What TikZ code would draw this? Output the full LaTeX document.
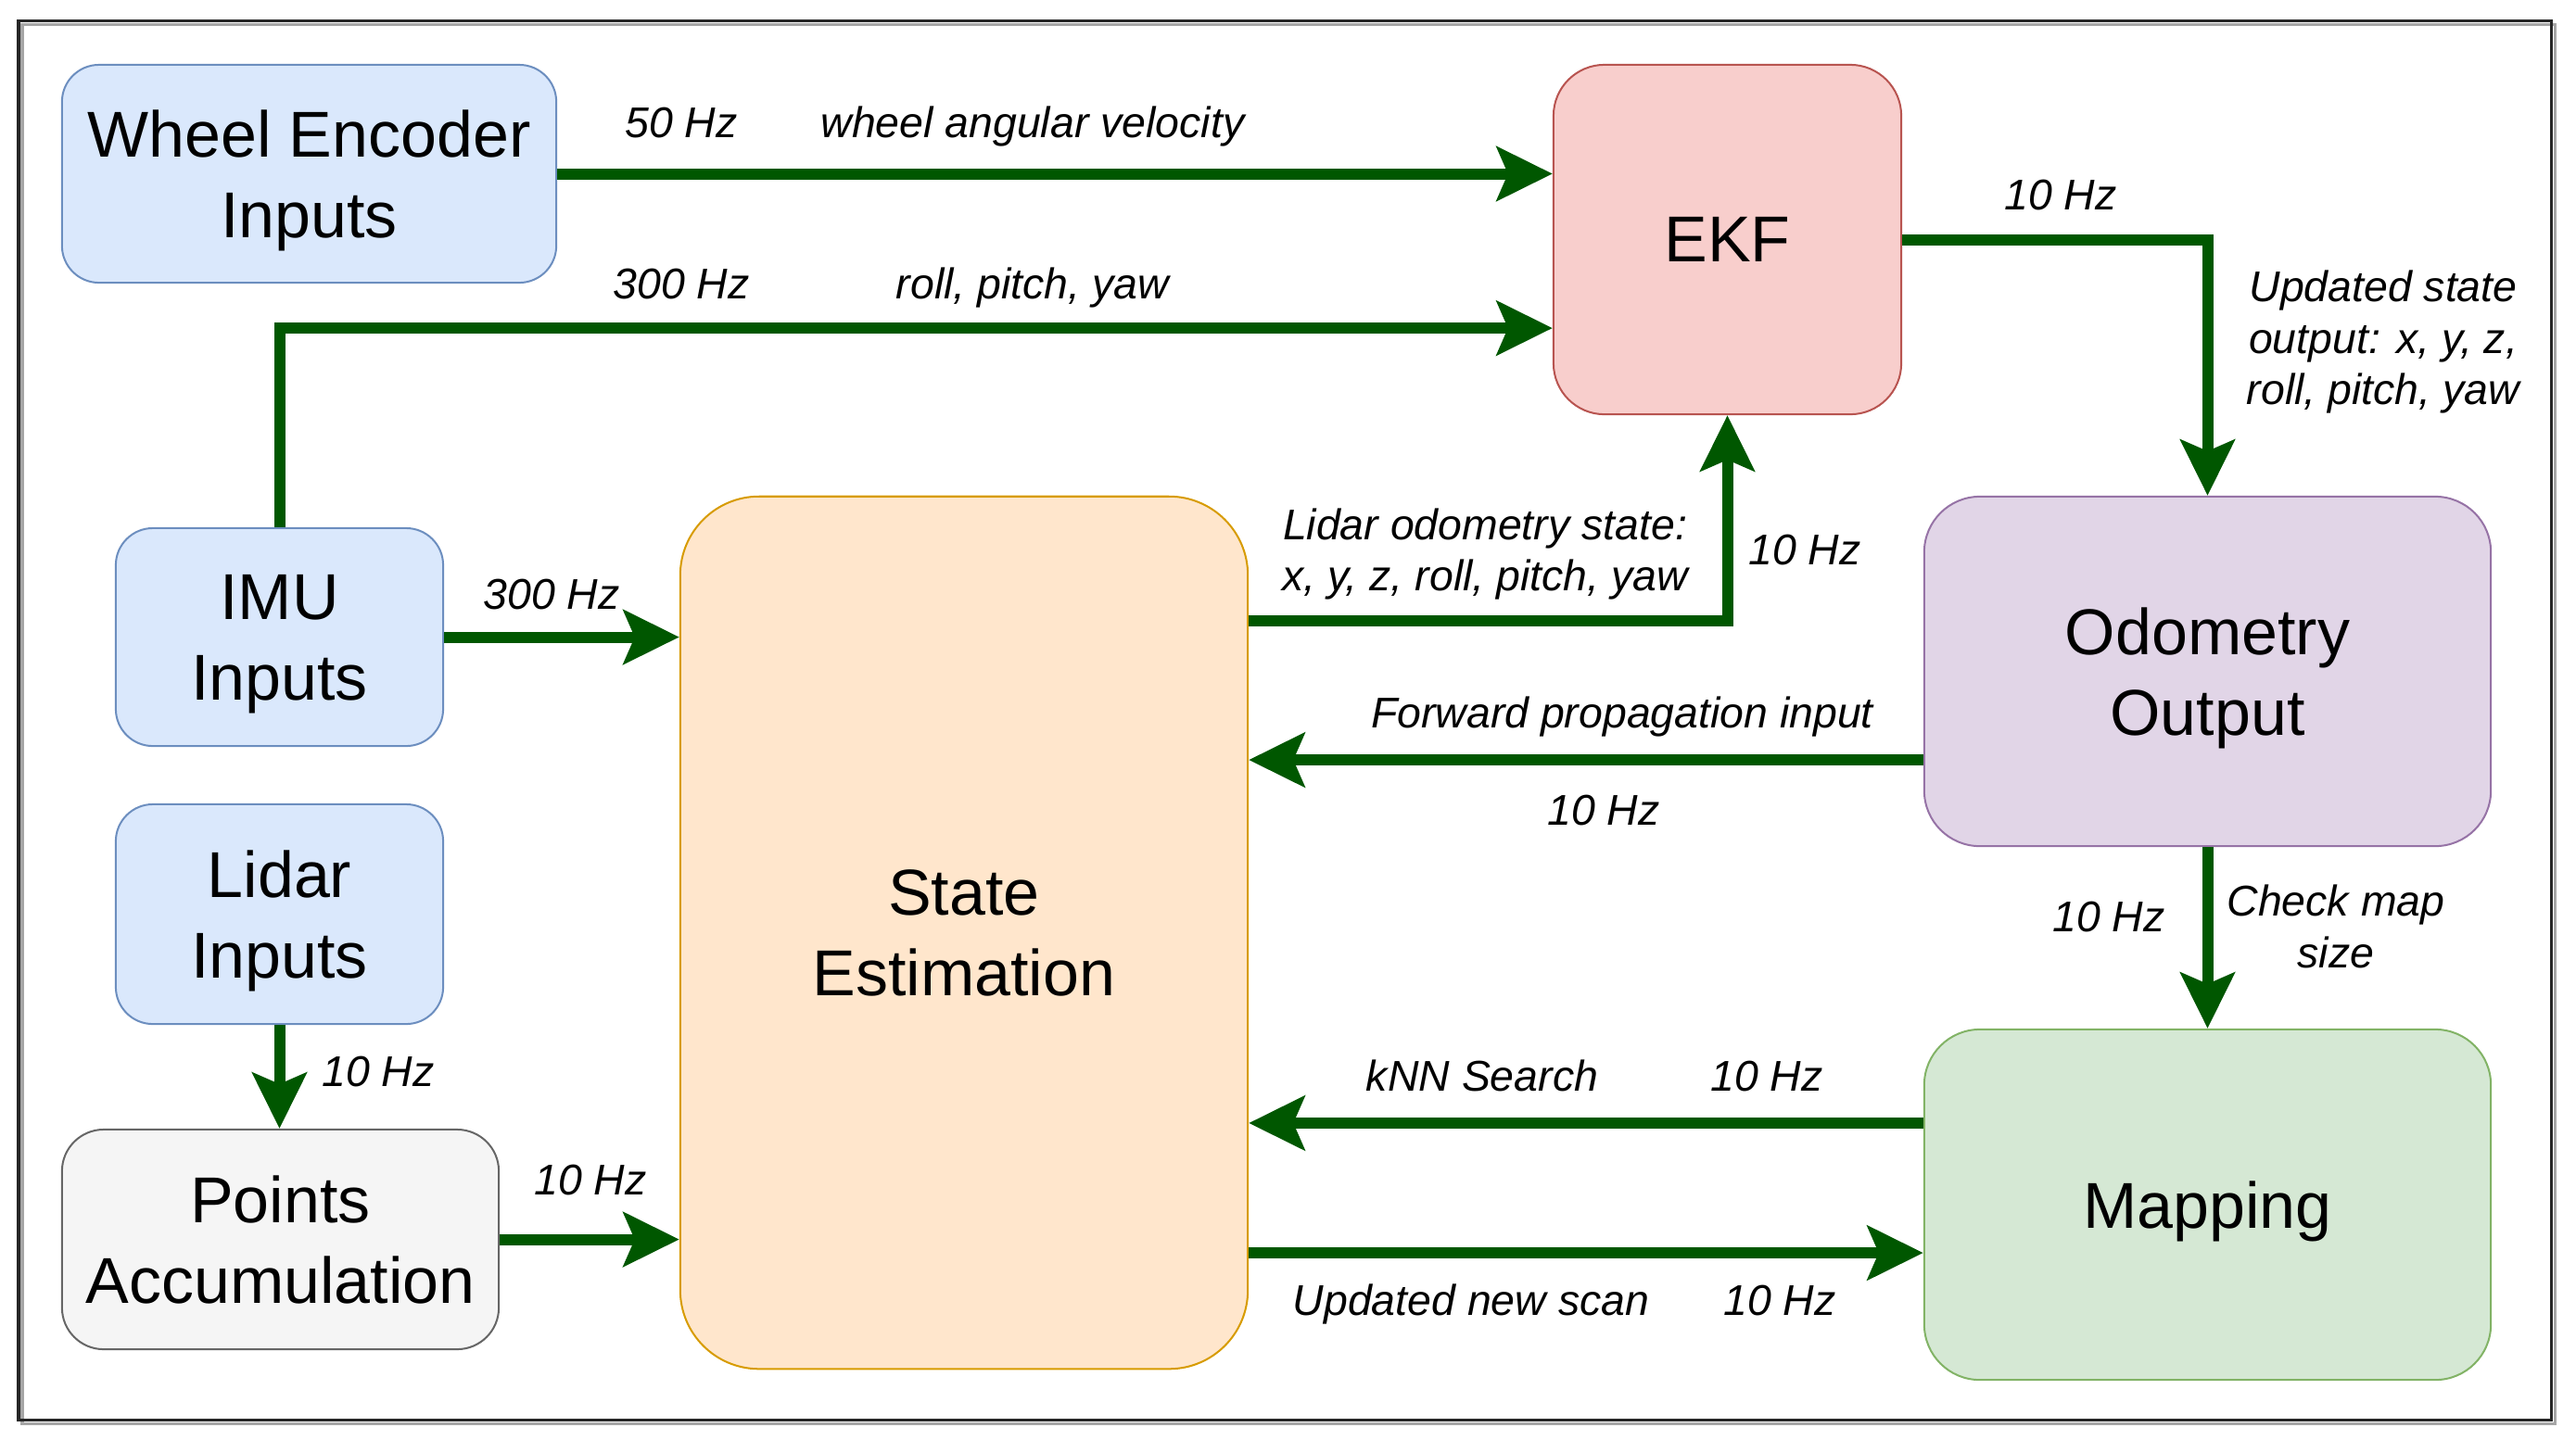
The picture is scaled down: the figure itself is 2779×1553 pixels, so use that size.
\documentclass[tikz,border=0pt]{standalone}
\usepackage{fontspec}
\setmainfont{Liberation Sans}
\usetikzlibrary{arrows.meta}
\definecolor{flowgreen}{HTML}{005700}
\definecolor{inblue}{HTML}{DAE8FC}
\definecolor{inblueline}{HTML}{6C8EBF}
\definecolor{ekfred}{HTML}{F8CECC}
\definecolor{ekfredline}{HTML}{B85450}
\definecolor{stateorange}{HTML}{FFE6CC}
\definecolor{stateorangeline}{HTML}{D79B00}
\definecolor{odompurple}{HTML}{E1D5E7}
\definecolor{odompurpleline}{HTML}{9673A6}
\definecolor{mapgreen}{HTML}{D5E8D4}
\definecolor{mapgreenline}{HTML}{82B366}
\definecolor{ptsgray}{HTML}{F5F5F5}
\definecolor{ptsgrayline}{HTML}{666666}
\newcommand{\boxfont}{\fontsize{19.9}{24.7}\selectfont}
\newcommand{\lblfont}{\fontsize{13.2}{15.9}\selectfont\itshape}
\tikzset{
	box/.style 2 args={rectangle,draw=#1,fill=#2,line width=0.02cm,align=center,font=\boxfont,inner sep=0pt,text depth=0pt},
	lbl/.style={anchor=base,inner sep=0pt,align=center,font=\lblfont},
	flow/.style={draw=flowgreen,line width=0.12cm,-{Stealth[length=0.6cm,width=0.58cm,inset=0.12cm]}}
}
\begin{document}
\begin{tikzpicture}[x=0.01cm,y=-0.01cm]
	\useasboundingbox (0,0) rectangle (2779,1553);
	\draw[black!35,line width=0.03cm] (24,26) rectangle (2756,1536);
	\draw[black!85,line width=0.03cm] (20,22) rectangle (2752,1532);

	\node [box={inblueline}{inblue},rounded corners=0.4cm,minimum width=5.33cm,minimum height=2.35cm] (wheel) at (333.5,187.5) {Wheel Encoder\\Inputs};
	\node [box={inblueline}{inblue},rounded corners=0.4cm,minimum width=3.53cm,minimum height=2.35cm] (imu) at (301.5,687.5) {IMU\\Inputs};
	\node [box={inblueline}{inblue},rounded corners=0.4cm,minimum width=3.53cm,minimum height=2.37cm] (lidar) at (301.5,986.5) {Lidar\\Inputs};
	\node [box={ptsgrayline}{ptsgray},rounded corners=0.45cm,minimum width=4.71cm,minimum height=2.37cm] (points) at (302.5,1337.5) {Points\\Accumulation};
	\node [box={stateorangeline}{stateorange},rounded corners=0.85cm,minimum width=6.12cm,minimum height=9.41cm] (state) at (1040,1006.5) {State\\Estimation};
	\node [box={ekfredline}{ekfred},rounded corners=0.55cm,minimum width=3.75cm,minimum height=3.77cm] (ekf) at (1863.5,258.5) {EKF};
	\node [box={odompurpleline}{odompurple},rounded corners=0.6cm,minimum width=6.11cm,minimum height=3.77cm] (odom) at (2381.5,724.5) {Odometry\\Output};
	\node [box={mapgreenline}{mapgreen},rounded corners=0.6cm,minimum width=6.11cm,minimum height=3.78cm] (mapping) at (2381.5,1300) {Mapping};

	\draw[flow] (wheel.east) -- (wheel.east -| ekf.west);
	\draw[flow] (imu.north) |- ([yshift=0.94cm]ekf.south west);
	\draw[flow] (imu.east) -- (imu.east -| state.west);
	\draw[flow] (lidar.south) -- (lidar.south |- points.north);
	\draw[flow] (points.east) -- (points.east -| state.west);
	\draw[flow] ([yshift=-1.35cm]state.north east) -| (ekf.south);
	\draw[flow] (ekf.east) -| (odom.north);
	\draw[flow] ([yshift=-0.955cm]odom.west) -- ([yshift=-0.955cm]odom.west -| state.east);
	\draw[flow] (odom.south) -- (mapping.north);
	\draw[flow] ([yshift=0.88cm]mapping.west) -- ([yshift=0.88cm]mapping.west -| state.east);
	\draw[flow] ([yshift=-0.52cm]mapping.west -| state.east) -- ([yshift=-0.52cm]mapping.west);

	\node [lbl] (hzwheel) at (735,148) {50 Hz};
	\node [lbl] (txtwheel) at (1114,148) {wheel angular velocity};
	\node [lbl] (hzimutop) at (735,322) {300 Hz};
	\node [lbl] (txtimutop) at (1114,322) {roll, pitch, yaw};
	\node [lbl] (hzimu) at (595,657) {300 Hz};
	\node [lbl] (hzlidar) at (408,1172) {10 Hz};
	\node [lbl] (hzpoints) at (637,1289) {10 Hz};
	\node [lbl] (hzekf) at (2223,226) {10 Hz};
	\node [lbl,anchor=center] (txtekf) at (2571,369) {Updated state\\output: x, y, z,\\roll, pitch, yaw};
	\node [lbl,anchor=center] (txtlo) at (1602,598) {Lidar odometry state:\\x, y, z, roll, pitch, yaw};
	\node [lbl] (hzlo) at (1947,609) {10 Hz};
	\node [lbl] (txtfwd) at (1750,785) {Forward propagation input};
	\node [lbl] (hzfwd) at (1730,890) {10 Hz};
	\node [lbl] (hzmap) at (2275,1005) {10 Hz};
	\node [lbl,anchor=center] (txtmap) at (2520,1000) {Check map\\size};
	\node [lbl] (txtknn) at (1599,1177) {kNN Search};
	\node [lbl] (hzknn) at (1906,1177) {10 Hz};
	\node [lbl] (txtscan) at (1587,1419) {Updated new scan};
	\node [lbl] (hzscan) at (1920,1419) {10 Hz};
\end{tikzpicture}
\end{document}
